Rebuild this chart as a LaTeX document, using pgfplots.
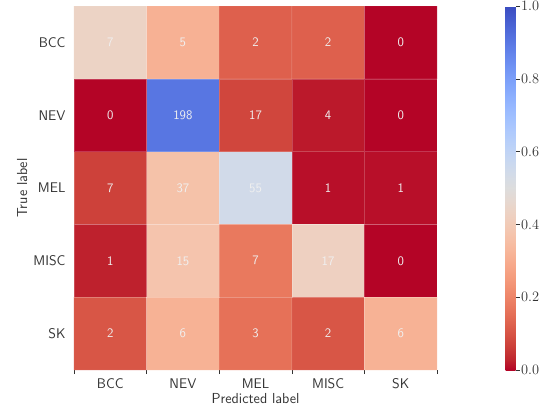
\documentclass[border=0pt]{standalone}
\usepackage{pgfplots}
\usepackage{pgfplotstable}
\pgfplotsset{compat=1.18}
\definecolor{txt}{rgb}{0.2,0.2,0.2}
\pgfplotsset{colormap={coolwarmr}{
rgb=(0.705673158,0.01555616,0.150232812)
rgb=(0.752534934,0.157246067,0.184115123)
rgb=(0.795631745,0.24128379,0.220525627)
rgb=(0.834620542,0.312874446,0.259301199)
rgb=(0.869186849,0.378313092,0.300267182)
rgb=(0.89904617,0.439559467,0.343229596)
rgb=(0.923944917,0.49730856,0.387970225)
rgb=(0.943660866,0.551750968,0.434243684)
rgb=(0.958003065,0.602842431,0.481775914)
rgb=(0.966811177,0.650421156,0.530263762)
rgb=(0.969954137,0.694266682,0.579375448)
rgb=(0.96732803,0.734132809,0.628751763)
rgb=(0.958852946,0.769767752,0.678007945)
rgb=(0.944468518,0.800927443,0.726736146)
rgb=(0.924127593,0.827384882,0.774508472)
rgb=(0.897787179,0.848937047,0.820880546)
rgb=(0.865395197,0.86541021,0.865395561)
rgb=(0.833466556,0.860207984,0.901068838)
rgb=(0.798691636,0.849786142,0.931688648)
rgb=(0.761464949,0.834302879,0.956945269)
rgb=(0.722193294,0.813952739,0.976574709)
rgb=(0.681291281,0.788964712,0.990363227)
rgb=(0.639176211,0.759599947,0.998151185)
rgb=(0.596262162,0.726149107,0.999836203)
rgb=(0.552953156,0.688929332,0.995375608)
rgb=(0.509635204,0.648280772,0.98478814)
rgb=(0.46666708,0.604562568,0.968154911)
rgb=(0.424369608,0.558148092,0.945619588)
rgb=(0.38301334,0.50941904,0.917387822)
rgb=(0.342804478,0.458757618,0.883725899)
rgb=(0.30386891,0.406535296,0.84495867)
rgb=(0.26623388,0.353094838,0.801466763)
rgb=(0.2298057,0.298717966,0.753683153)
}}
\pgfplotstableread{
x y c n
0 0 0.1053 2
1 0 0.3158 6
2 0 0.1579 3
3 0 0.1053 2
4 0 0.3158 6
0 1 0.025 1
1 1 0.375 15
2 1 0.175 7
3 1 0.425 17
4 1 0 0
0 2 0.0693 7
1 2 0.3663 37
2 2 0.5446 55
3 2 0.0099 1
4 2 0.0099 1
0 3 0 0
1 3 0.9041 198
2 3 0.0776 17
3 3 0.0183 4
4 3 0 0
0 4 0.4375 7
1 4 0.3125 5
2 4 0.125 2
3 4 0.125 2
4 4 0 0
}\cm
\begin{document}
\begin{tikzpicture}
\useasboundingbox (0,0) rectangle (548pt,408pt);
\begin{axis}[
  at={(74pt,38pt)}, anchor=south west,
  scale only axis, width=363pt, height=364pt,
  xmin=-0.5, xmax=4.5, ymin=-0.5, ymax=4.5,
  axis line style={draw=none},
  xtick={0,1,2,3,4}, xticklabels={BCC,NEV,MEL,MISC,SK},
  ytick={0,1,2,3,4}, yticklabels={SK,MISC,MEL,NEV,BCC},
  minor xtick={-0.5,0.5,1.5,2.5,3.5,4.5},
  major tick length=0pt, minor tick length=4pt,
  tick align=outside, xtick pos=bottom, ytick pos=left,
  minor tick style={txt, line width=0.5pt},
  ticklabel style={font=\sffamily\fontsize{14}{16}\selectfont, text=txt},
  xticklabel style={yshift=-5pt},
  yticklabel style={xshift=-5pt},
  xlabel={Predicted label}, ylabel={True label},
  label style={font=\sffamily\fontsize{14.5}{16}\selectfont, text=txt},
  xlabel style={at={(axis description cs:0.5,-0.0797)}, anchor=center},
  ylabel style={at={(axis description cs:-0.143,0.5)}, anchor=center},
  colormap name=coolwarmr,
  point meta min=0, point meta max=1,
  colorbar,
  colorbar style={
    at={(parent axis.north east)}, anchor=north west, xshift=60pt,
    width=10pt,
    axis line style={draw=none},
    ytick={0,0.2,0.4,0.6,0.8,1.0},
    yticklabel style={/pgf/number format/fixed, /pgf/number format/precision=1,
      /pgf/number format/fixed zerofill, font=\fontsize{13.5}{15}\selectfont, text=txt, xshift=-2pt},
    major tick length=4pt, tick align=outside, ytick pos=right,
    major tick style={txt, line width=0.5pt},
  },
]
\addplot[matrix plot*, mesh/cols=5, point meta=explicit, draw=white, draw opacity=0.2, line width=0.4pt]
  table[x=x, y=y, meta=c] {\cm};
\addplot[only marks, mark=*, mark options={draw=none, fill=none}, mark size=0pt,
  point meta=explicit symbolic, nodes near coords,
  nodes near coords style={anchor=center, text=white!94!black, font=\sffamily\fontsize{13}{15}\selectfont}]
  table[x=x, y=y, meta=n] {\cm};
\end{axis}
\end{tikzpicture}
\end{document}
